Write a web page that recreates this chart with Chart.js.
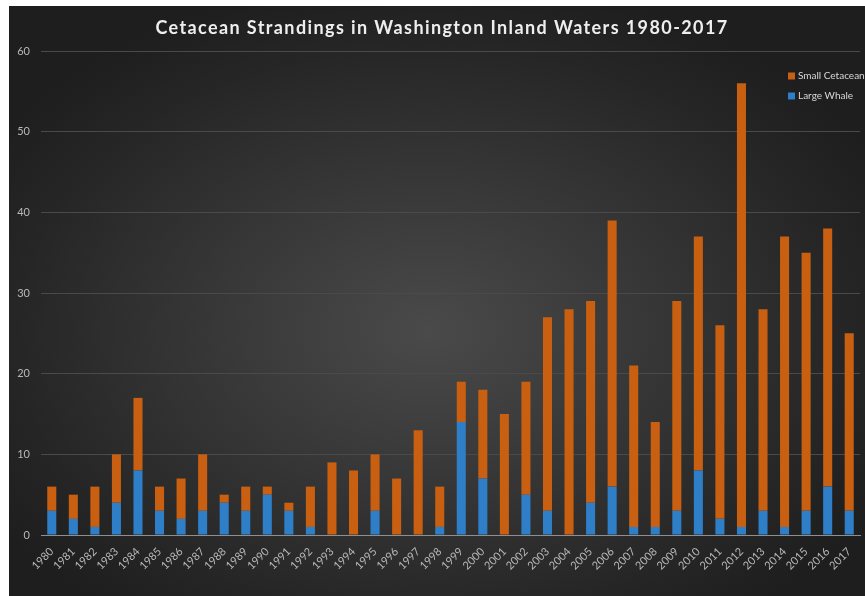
<!DOCTYPE html>
<html>
<head>
<meta charset="utf-8">
<script src="https://cdn.jsdelivr.net/npm/chart.js@4"></script>
<style>
  html, body { margin: 0; padding: 0; background: #ffffff; }
  #wrap {
    position: absolute; left: 9px; top: 6px; width: 856px; height: 590px;
    background: radial-gradient(ellipse 60% 60% at 49% 55%, #4a4a4a 0%, #363636 45%, #262626 80%, #1e1e1e 100%);
  }
  canvas { display: block; }
</style>
</head>
<body>
<div id="wrap"><canvas id="chart" width="856" height="590"></canvas></div>
<script>
const years = ["1980","1981","1982","1983","1984","1985","1986","1987","1988","1989",
  "1990","1991","1992","1993","1994","1995","1996","1997","1998","1999",
  "2000","2001","2002","2003","2004","2005","2006","2007","2008","2009",
  "2010","2011","2012","2013","2014","2015","2016","2017"];

const largeWhale = [3,2,1,4,8,3,2,3,4,3, 5,3,1,0,0,3,0,0,1,14, 7,0,5,3,0,4,6,1,1,3, 8,2,1,3,1,3,6,3];
const smallCetacean = [3,3,5,6,9,3,5,7,1,3, 1,1,5,9,8,7,7,13,5,5, 11,15,14,24,28,25,33,20,13,26, 29,24,55,25,36,32,32,22];

const yTicks = [0, 10, 20, 30, 40, 50, 60];

const TITLE = "Cetacean Strandings in Washington Inland Waters 1980-2017";
const ORANGE = "#c95f10";
const BLUE = "#2e7fc8";
const TICK_COLOR = "#b8b8b8";

// spaced-out title, drawn by hand since the built-in title has no letter spacing
const spacedTitle = {
  id: "spacedTitle",
  afterDraw(chart) {
    const ctx = chart.ctx;
    ctx.save();
    ctx.font = "bold 18px Lato";
    ctx.letterSpacing = "1.4px";
    ctx.fillStyle = "#eeeeee";
    ctx.textAlign = "center";
    ctx.textBaseline = "alphabetic";
    ctx.fillText(TITLE, 433, 28);
    ctx.restore();
  },
};

// legend drawn inside the plot, top right, in reverse stack order
const sideLegend = {
  id: "sideLegend",
  afterDraw(chart) {
    const ctx = chart.ctx;
    const items = chart.data.datasets.slice().reverse();
    ctx.save();
    ctx.font = "10px Lato";
    ctx.textBaseline = "middle";
    items.forEach((ds, i) => {
      const y = 70 + i * 20;
      ctx.fillStyle = ds.backgroundColor;
      ctx.fillRect(779, y - 3.5, 7, 7);
      ctx.fillStyle = "#d8d8d8";
      ctx.fillText(ds.label, 789, y);
    });
    ctx.restore();
  },
};

new Chart(document.getElementById("chart"), {
  type: "bar",
  data: {
    labels: years,
    datasets: [
      { label: "Large Whale", data: largeWhale, backgroundColor: BLUE },
      { label: "Small Cetacean", data: smallCetacean, backgroundColor: ORANGE },
    ],
  },
  options: {
    responsive: false,
    animation: false,
    barPercentage: 0.42,
    categoryPercentage: 1,
    layout: { padding: { left: 0, right: 5, top: 45, bottom: 0 } },
    plugins: {
      legend: { display: false },
      tooltip: { enabled: false },
      title: { display: false },
    },
    scales: {
      x: {
        stacked: true,
        grid: { display: false },
        border: { display: true, color: "#8f8f8f", width: 1 },
        ticks: {
          color: TICK_COLOR,
          font: { family: "Lato", size: 11 },
          autoSkip: false,
          minRotation: 45,
          maxRotation: 45,
          padding: 2,
        },
        afterFit(scale) { scale.height = 61; },
      },
      y: {
        stacked: true,
        min: 0,
        max: 60,
        afterBuildTicks(scale) { scale.ticks = yTicks.map((v) => ({ value: v })); },
        grid: { color: "#4a4a4a", drawTicks: false },
        border: { display: false },
        ticks: {
          color: TICK_COLOR,
          font: { family: "Lato", size: 11 },
          padding: 11,
        },
        afterFit(scale) { scale.width = 32; },
      },
    },
  },
  plugins: [spacedTitle, sideLegend],
});
</script>
</body>
</html>
